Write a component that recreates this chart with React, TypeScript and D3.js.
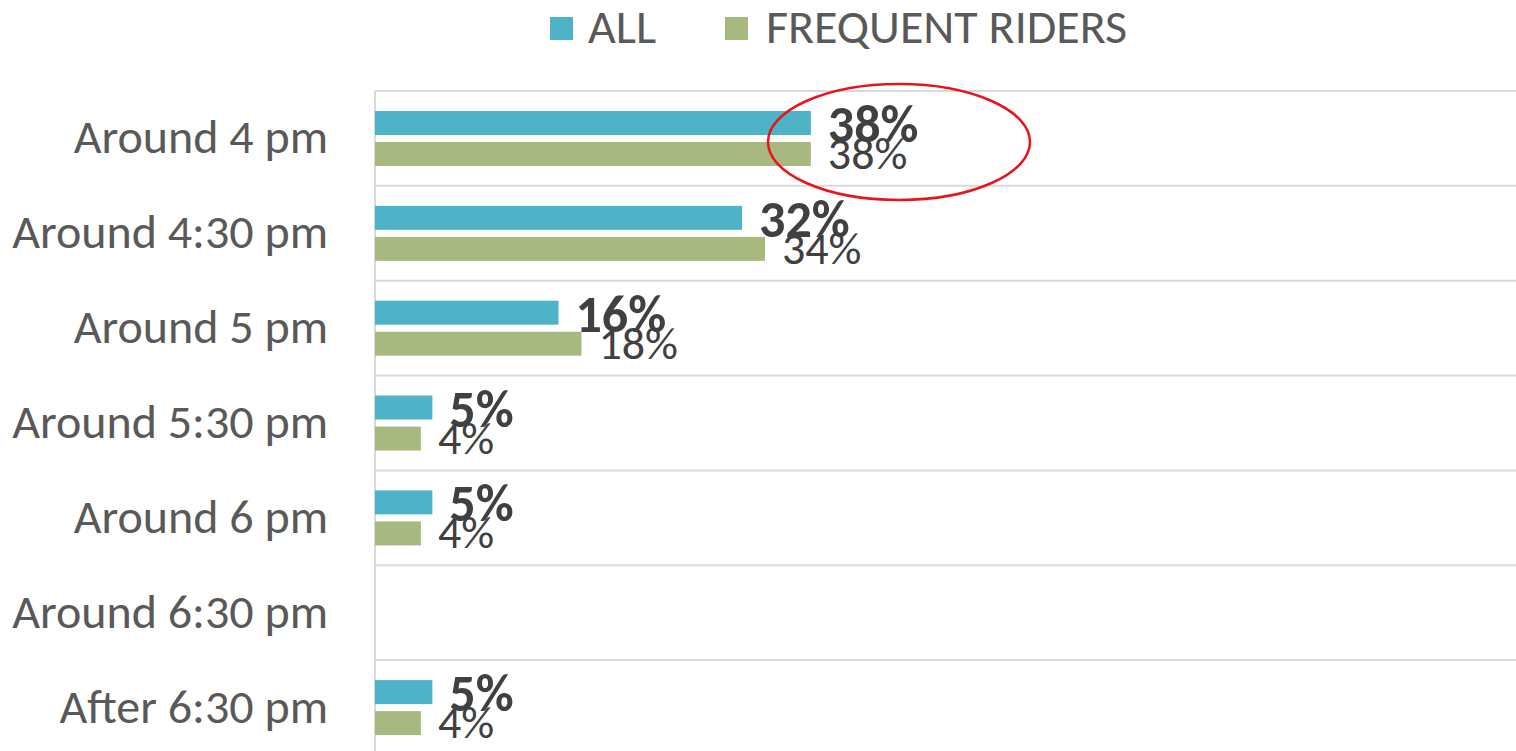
import React from "react";
import * as d3 from "d3";

const categories = [
  "Around 4 pm",
  "Around 4:30 pm",
  "Around 5 pm",
  "Around 5:30 pm",
  "Around 6 pm",
  "Around 6:30 pm",
  "After 6:30 pm",
];
const seriesNames = ["ALL", "FREQUENT RIDERS"];
const allValues: (number | null)[] = [38, 32, 16, 5, 5, null, 5];
const frequentValues: (number | null)[] = [38, 34, 18, 4, 4, null, 4];
const seriesColors = ["#4fb3c8", "#a8b97f"];

const W = 1516;
const H = 751;
const FONT = "Carlito, 'Open Sans', sans-serif";

export default function App() {
  const x = d3.scaleLinear().domain([0, 100]).range([375, 1522]);
  const y = d3.scaleBand<string>().domain(categories).range([91, 91 + 7 * 94.85]);
  const inner = d3
    .scaleBand<string>()
    .domain(seriesNames)
    .range([20, 75])
    .paddingInner(0.226);
  const values = [allValues, frequentValues];
  const gridYs = categories.map((c) => y(c) as number).concat([y.range()[1]]);

  return (
    <svg width={W} height={H} style={{ position: "absolute", left: 0, top: 0, background: "#fff" }}>
      <rect x={0} y={0} width={W} height={H} fill="#fff" />
      {/* gridlines */}
      {gridYs.map((gy, i) => (
        <line key={i} x1={375} x2={W} y1={gy} y2={gy} stroke="#d9d9d9" strokeWidth={2} />
      ))}
      <line x1={375} x2={375} y1={91} y2={H} stroke="#d9d9d9" strokeWidth={2} />

      {/* category labels */}
      {categories.map((c) => (
        <text
          key={c}
          x={328}
          y={(y(c) as number) + y.bandwidth() / 2 + 15}
          textAnchor="end"
          fontFamily={FONT}
          fontSize={48}
          fill="#595959"
        >
          {c}
        </text>
      ))}

      {/* bars */}
      {categories.map((c, ci) =>
        seriesNames.map((s, si) => {
          const v = values[si][ci];
          if (v == null) return null;
          const by = (y(c) as number) + (inner(s) as number);
          return (
            <rect
              key={c + s}
              x={x(0)}
              y={by}
              width={x(v) - x(0)}
              height={inner.bandwidth()}
              fill={seriesColors[si]}
            />
          );
        })
      )}

      {/* labels (frequent first so ALL overlays) */}
      {categories.map((c, ci) =>
        [1, 0].map((si) => {
          const s = seriesNames[si];
          const v = values[si][ci];
          if (v == null) return null;
          const by = (y(c) as number) + (inner(s) as number);
          return (
            <text
              key={c + s + "l"}
              x={x(v) + 17}
              y={by + inner.bandwidth() + (si === 0 ? 7 : 3)}
              fontFamily={FONT}
              fontSize={si === 0 ? 52 : 46}
              fontWeight={si === 0 ? 700 : 400}
              fill="#404040"
            >
              {v}%
            </text>
          );
        })
      )}

      {/* legend */}
      <rect x={550} y={17} width={23} height={23} fill={seriesColors[0]} />
      <text x={588} y={43} fontFamily={FONT} fontSize={48} fill="#595959">
        {seriesNames[0]}
      </text>
      <rect x={725} y={17} width={23} height={23} fill={seriesColors[1]} />
      <text x={766} y={43} fontFamily={FONT} fontSize={48} fill="#595959">
        {seriesNames[1]}
      </text>

      {/* annotation ellipse */}
      <ellipse cx={899} cy={142} rx={131} ry={58} fill="none" stroke="#e8141b" strokeWidth={2.5} />
    </svg>
  );
}
